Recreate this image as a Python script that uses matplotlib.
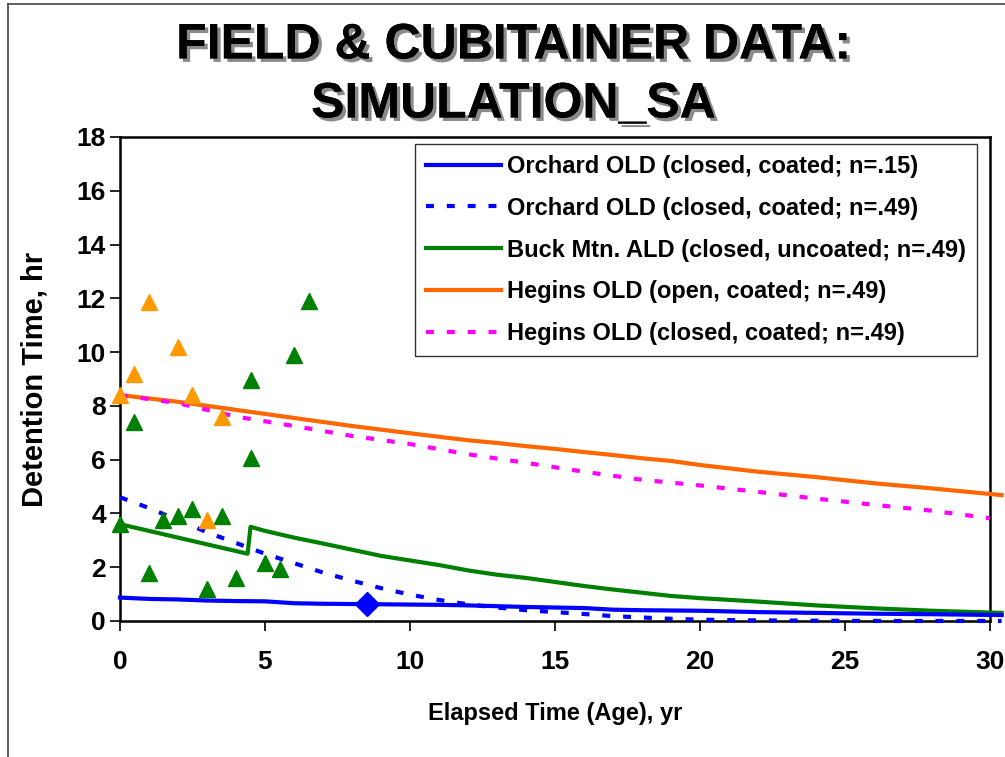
import matplotlib
matplotlib.use("Agg")
import matplotlib.pyplot as plt
import matplotlib.patheffects as pe
from matplotlib.lines import Line2D

plt.rcParams['font.family'] = ['Liberation Sans', 'DejaVu Sans']
plt.rcParams['font.weight'] = 'bold'

# model curves
orch15_x = [0, 1, 2, 3, 4, 5, 6, 7, 8, 8.5, 9, 10, 11, 12, 13, 14, 15, 16, 17, 18, 19, 20, 22, 24, 26, 28, 30.4]
orch15_y = [0.87, 0.82, 0.8, 0.76, 0.74, 0.73, 0.66, 0.64, 0.63, 0.63, 0.62, 0.61, 0.6, 0.58, 0.55, 0.52, 0.5, 0.48,
            0.42, 0.4, 0.39, 0.38, 0.33, 0.3, 0.27, 0.25, 0.22]
orch15_mark = 8.5

orch49_x = [0, 1, 2, 3, 4, 5, 6, 7, 8, 9, 10, 11, 12, 13, 14, 15, 16, 17, 18, 19, 20, 21, 22, 24, 26, 28, 30.4]
orch49_y = [4.6, 4.2, 3.75, 3.3, 2.9, 2.5, 2.15, 1.8, 1.5, 1.22, 0.98, 0.78, 0.62, 0.5, 0.4, 0.33, 0.26, 0.18, 0.13,
            0.08, 0.05, 0.03, 0.02, 0.01, 0.0, 0.0, 0.0]

buck_x = [0, 1, 2, 3, 4, 4.4, 4.5, 5, 6, 7, 8, 9, 10, 11, 12, 13, 14, 15, 16, 17, 18, 19, 20, 22, 24, 26, 28, 30.4]
buck_y = [3.6, 3.35, 3.1, 2.85, 2.6, 2.5, 3.5, 3.35, 3.1, 2.88, 2.65, 2.42, 2.25, 2.08, 1.88, 1.72, 1.6, 1.45, 1.3,
          1.17, 1.05, 0.93, 0.85, 0.72, 0.58, 0.47, 0.38, 0.3]

hopen_x = [0, 2, 4, 6, 8, 10, 12, 13, 14, 15, 16, 17, 18, 19, 20, 22, 24, 26, 28, 30.4]
hopen_y = [8.4, 8.15, 7.85, 7.55, 7.25, 6.98, 6.72, 6.62, 6.5, 6.4, 6.28, 6.17, 6.05, 5.95, 5.8, 5.55, 5.35, 5.12,
           4.93, 4.68]

hclosed_x = [0, 2, 4, 6, 8, 10, 12, 14, 16, 18, 20, 22, 24, 26, 28, 30]
hclosed_y = [8.4, 8.1, 7.6, 7.25, 6.88, 6.58, 6.2, 5.88, 5.55, 5.25, 5.04, 4.8, 4.55, 4.32, 4.1, 3.82]

# field / cubitainer measurements
buck_fx = [0, 0.5, 1, 1.5, 2, 2.5, 3, 3.5, 4, 4.5, 4.5, 5, 5.5, 6, 6.5]
buck_fy = [3.6, 7.4, 1.8, 3.75, 3.9, 4.15, 1.2, 3.9, 1.6, 6.05, 8.95, 2.15, 1.95, 9.9, 11.9]

hegins_fx = [0, 0.5, 1, 2, 2.5, 3, 3.5]
hegins_fy = [8.4, 9.2, 11.85, 10.2, 8.4, 3.75, 7.6]

labels = ['Orchard OLD (closed, coated; n=.15)',
          'Orchard OLD (closed, coated; n=.49)',
          'Buck Mtn. ALD (closed, uncoated; n=.49)',
          'Hegins OLD (open, coated; n=.49)',
          'Hegins OLD (closed, coated; n=.49)']

fig = plt.figure(figsize=(10.05, 7.57), dpi=100)
ax = fig.add_axes([0.1194, 0.1797, 0.8657, 0.6394])

dots = (0, (1.9, 3.1))
lw = 3.0
ax.plot(orch15_x, orch15_y, color='#0000FF', lw=lw, label=labels[0], clip_on=False, zorder=5)
ax.plot(orch49_x, orch49_y, color='#0000FF', lw=lw, ls=dots, label=labels[1], clip_on=False, zorder=4)
ax.plot(buck_x, buck_y, color='#008000', lw=lw, label=labels[2], clip_on=False, zorder=3)
ax.plot(hopen_x, hopen_y, color='#FF6600', lw=lw, label=labels[3], clip_on=False, zorder=3)
ax.plot(hclosed_x, hclosed_y, color='#FF00FF', lw=lw, ls=dots, label=labels[4], clip_on=False, zorder=3)

i = orch15_x.index(orch15_mark)
ax.plot([orch15_x[i]], [orch15_y[i]], marker='D', ms=12, color='#0000FF', ls='none', zorder=6)

ax.plot(buck_fx, buck_fy, marker='^', ms=11, color='#008000', ls='none', zorder=7, clip_on=False)
ax.plot(hegins_fx, hegins_fy, marker='^', ms=11, color='#FF9900', ls='none', zorder=7, clip_on=False)

ax.set_xlim(0, 30)
ax.set_ylim(0, 18)
ax.set_xticks(range(0, 31, 5))
ax.set_yticks(range(0, 19, 2))
ax.tick_params(direction='out', length=7, width=1.2, labelsize=19, pad=3)
ax.tick_params(axis='x', pad=14)
for s in ax.spines.values():
    s.set_linewidth(1.8)
    s.set_color('black')

ax.set_xlabel('Elapsed Time (Age), yr', fontsize=17, fontweight='bold', labelpad=20)
ax.set_ylabel('Detention Time, hr', fontsize=21, fontweight='bold', labelpad=20)

leg = ax.legend(loc='upper left', bbox_to_anchor=(0.339, 0.985), fontsize=17, frameon=True, fancybox=False,
                handlelength=3.2, handletextpad=0.25, labelspacing=0.8, borderpad=0.45, borderaxespad=0)
leg.get_frame().set_edgecolor('black')
leg.get_frame().set_linewidth(1.0)

shadow = [pe.withSimplePatchShadow(offset=(2.5, -2.5), shadow_rgbFace='#8a8a8a', alpha=1.0), pe.Normal()]
fig.text(0.511, 0.94, 'FIELD & CUBITAINER DATA:', ha='center', va='center', fontsize=36,
         fontweight='bold', path_effects=shadow)
fig.text(0.511, 0.862, 'SIMULATION_SA', ha='center', va='center', fontsize=36,
         fontweight='bold', path_effects=shadow)

# outer chart border
fig.add_artist(Line2D([0.008, 0.008], [0, 0.995], transform=fig.transFigure, color='#444444', lw=1.2))
fig.add_artist(Line2D([0.008, 1.0], [0.995, 0.995], transform=fig.transFigure, color='#444444', lw=1.2))

fig.savefig('out.png', dpi=100)
